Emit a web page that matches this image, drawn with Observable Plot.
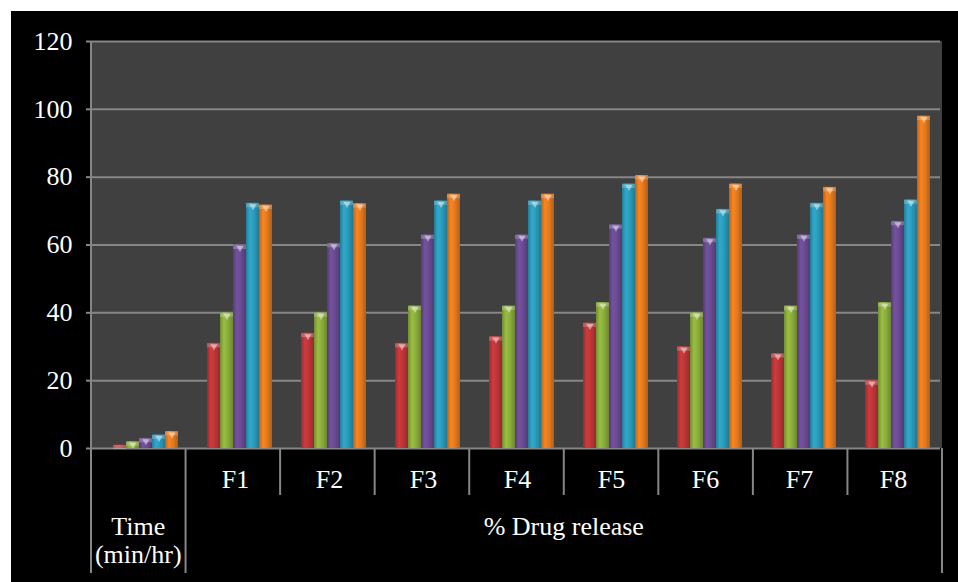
<!DOCTYPE html>
<html>
<head>
<meta charset="utf-8">
<script src="https://cdn.jsdelivr.net/npm/d3@7"></script>
<script src="https://cdn.jsdelivr.net/npm/@observablehq/plot@0.6"></script>
<style>
  html, body { margin: 0; padding: 0; background: #ffffff; }
  #chart { position: absolute; left: 11px; top: 11px; }
  #chart svg { display: block; }
</style>
</head>
<body>
<div id="chart"></div>
<script>
// Categories along the bottom: the time column followed by the eight formulations
const categories = ["Time", "F1", "F2", "F3", "F4", "F5", "F6", "F7", "F8"];

// One series per sampling time (hr); first entry is the time value itself,
// the rest are % drug release for F1..F8
const seriesNames = ["1 hr", "2 hr", "3 hr", "4 hr", "5 hr"];
const hour1 = [1, 31, 34, 31, 33, 37, 30, 28, 20];
const hour2 = [2, 40, 40, 42, 42, 43, 40, 42, 43];
const hour3 = [3, 60, 60.5, 63, 63, 66, 62, 63, 67];
const hour4 = [4, 72.3, 73, 73, 73, 78, 70.5, 72.3, 73.3];
const hour5 = [5, 71.8, 72.2, 75, 75, 80.5, 78, 77, 98];
const seriesValues = [hour1, hour2, hour3, hour4, hour5];

// Y axis ticks
const yTicks = [0, 20, 40, 60, 80, 100, 120];

// Bottom table text
const timeHeader = ["Time", "(min/hr)"];
const releaseHeader = "% Drug release";

// Tidy rows for the bars
const rows = categories.flatMap((category, i) =>
  seriesNames.map((series, j) => ({category, series, value: seriesValues[j][i]}))
);

const baseColors = ["#bd3638", "#8cae3c", "#6b4b92", "#2c9bbb", "#e57a1e"];
const gradientIds = baseColors.map((_, i) => `barShade${i}`);

const width = 947, height = 571;
const margin = {top: 30, right: 16, bottom: 134, left: 80};
const gridColor = "#868686";
const plotFill = "#404040";
const fontFamily = "'Liberation Serif', 'Times New Roman', serif";

const chart = Plot.plot({
  width,
  height,
  marginTop: margin.top,
  marginRight: margin.right,
  marginBottom: margin.bottom,
  marginLeft: margin.left,
  style: {background: "#000000", color: "#ffffff", fontFamily, fontSize: "26px"},
  fx: {domain: categories, padding: 0, label: null},
  x: {domain: seriesNames, paddingInner: 0, paddingOuter: 0.95, align: 0.65, axis: null},
  y: {domain: [0, 120], label: null},
  color: {domain: seriesNames, range: gradientIds.map((id) => `url(#${id})`)},
  marks: [
    Plot.gridY(yTicks, {stroke: gridColor, strokeOpacity: 1, strokeWidth: 2}),
    Plot.barY(rows, {fx: "category", x: "series", y: "value", fill: "series", inset: 0}),
    // lighter bevel at the top of each bar
    Plot.tickY(rows, {fx: "category", x: "series", y: "value", stroke: "#ffffff", strokeOpacity: 0.22, strokeWidth: 4, dy: 2}),
    Plot.dot(rows.filter((d) => d.value >= 2), {fx: "category", x: "series", y: "value", symbol: "triangle", r: 2.6, rotate: 180, fill: "#ffffff", fillOpacity: 0.45, stroke: null, dy: 3}),
    Plot.axisY({
      ticks: yTicks, tickSize: 8, tickPadding: 14, strokeWidth: 2,
      stroke: gridColor, fill: "#ffffff", fontSize: 26, label: null
    }),
    Plot.axisFx({
      anchor: "bottom", tickSize: 0, tickPadding: 21, fontSize: 26,
      fill: "#ffffff", label: null,
      tickFormat: (d) => (d === "Time" ? "" : d)
    })
  ]
});

const svg = d3.select(chart);

// Cylinder-like horizontal shading for the bars
const defs = svg.insert("defs", ":first-child");
baseColors.forEach((c, i) => {
  const base = d3.color(c);
  const grad = defs.append("linearGradient")
    .attr("id", gradientIds[i])
    .attr("x1", "0").attr("x2", "1").attr("y1", "0").attr("y2", "0");
  grad.append("stop").attr("offset", "0%").attr("stop-color", base.darker(0.6));
  grad.append("stop").attr("offset", "30%").attr("stop-color", base.brighter(0.25));
  grad.append("stop").attr("offset", "60%").attr("stop-color", base);
  grad.append("stop").attr("offset", "100%").attr("stop-color", base.darker(0.7));
});

// Plot area and table laid out with the chart's own fx and y scales
const fxInfo = chart.scale("fx");
const fx = d3.scaleBand()
  .domain(fxInfo.domain)
  .range(fxInfo.range)
  .paddingInner(fxInfo.paddingInner ?? 0)
  .paddingOuter(fxInfo.paddingOuter ?? 0)
  .align(fxInfo.align ?? 0.5);
const yInfo = chart.scale("y");
const yBottom = Math.max(...yInfo.range);
const yTop = Math.min(...yInfo.range);
const left = Math.min(...fxInfo.range);
const right = Math.max(...fxInfo.range);
const rowOne = 47;
const tableBottom = yBottom + 125;

// single dark panel behind all facets
svg.insert("rect", "defs + *")
  .attr("x", left).attr("y", yTop)
  .attr("width", right - left).attr("height", yBottom - yTop)
  .attr("fill", plotFill);

const lines = svg.append("g")
  .attr("stroke", gridColor)
  .attr("stroke-width", 2)
  .attr("fill", "none");

// left edge of the plot, running down through the table
lines.append("line").attr("x1", left).attr("x2", left).attr("y1", yTop).attr("y2", tableBottom);
// right edge of the table
lines.append("line").attr("x1", right).attr("x2", right).attr("y1", yBottom).attr("y2", tableBottom);
// column separators
categories.slice(1).forEach((cat, i) => {
  const x = fx(cat);
  lines.append("line")
    .attr("x1", x).attr("x2", x)
    .attr("y1", yBottom)
    .attr("y2", i === 0 ? tableBottom : yBottom + rowOne);
});

const labels = svg.append("g")
  .attr("fill", "#ffffff")
  .attr("font-family", fontFamily)
  .attr("font-size", 26)
  .attr("text-anchor", "middle");

const timeX = fx("Time") + fx.bandwidth() / 2;
const timeText = labels.append("text").attr("x", timeX).attr("y", yBottom + 87);
timeHeader.forEach((line, i) => {
  timeText.append("tspan").attr("x", timeX).attr("dy", i === 0 ? 0 : 28).text(line);
});

const releaseX = (fx("F1") + right) / 2;
labels.append("text").attr("x", releaseX).attr("y", yBottom + 87).text(releaseHeader);

document.getElementById("chart").appendChild(chart);
</script>
</body>
</html>
